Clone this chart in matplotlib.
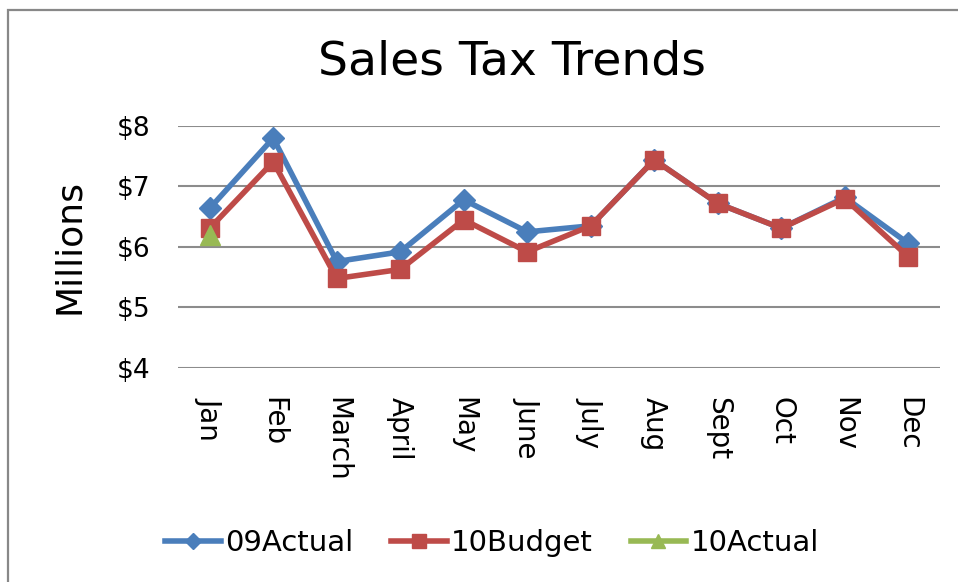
import matplotlib
matplotlib.use("Agg")
import matplotlib.pyplot as plt
from matplotlib.patches import Rectangle

months = ["Jan", "Feb", "March", "April", "May", "June",
          "July", "Aug", "Sept", "Oct", "Nov", "Dec"]
actual_09 = [6.64, 7.80, 5.76, 5.92, 6.78, 6.25, 6.35, 7.44, 6.72, 6.31, 6.82, 6.06]
budget_10 = [6.31, 7.41, 5.48, 5.63, 6.45, 5.92, 6.35, 7.44, 6.72, 6.31, 6.80, 5.84]
actual_10 = [6.20]
y_ticks = [4, 5, 6, 7, 8]
y_labels = ["$4", "$5", "$6", "$7", "$8"]

BLUE = "#4a7ebb"
RED = "#be4b48"
GREEN = "#98b954"

W, H = 958, 582
plt.rcParams["font.family"] = "DejaVu Sans"
fig = plt.figure(figsize=(W / 100, H / 100), dpi=100)

# chart-area border (only top/left visible in the crop)
fig.add_artist(Rectangle((8 / W, -0.1), 1.2, 1 - 10 / H + 0.1,
                         transform=fig.transFigure, fill=False,
                         edgecolor="#888888", linewidth=1.6))

ax = fig.add_axes([178 / W, 1 - 368 / H, (940 - 178) / W, (368 - 126) / H])
x = list(range(len(months)))

ax.plot(x, actual_09, color=BLUE, linewidth=4, marker="D", markersize=11,
        label="09Actual", zorder=3)
ax.plot(x, budget_10, color=RED, linewidth=4, marker="s", markersize=13,
        label="10Budget", zorder=4)
ax.plot(x[:len(actual_10)], actual_10, color=GREEN, linewidth=4, marker="^",
        markersize=14, label="10Actual", zorder=5)

ax.set_xlim(-0.5, len(months) - 0.5)
ax.set_ylim(4, 8)
ax.set_yticks(y_ticks)
ax.set_yticklabels(y_labels, fontsize=19)
ax.set_xticks(x)
ax.set_xticklabels(months, rotation=-90, fontsize=20, va="top", ha="center")
ax.tick_params(axis="both", length=0)
ax.tick_params(axis="y", pad=20)
ax.tick_params(axis="x", pad=21)
ax.grid(axis="y", color="#8c8c8c", linewidth=1.5)
ax.set_axisbelow(True)
for s in ax.spines.values():
    s.set_visible(False)

ax.set_ylabel("Millions", fontsize=26, labelpad=22)
fig.text(512 / W, 1 - 62 / H, "Sales Tax Trends", fontsize=34,
         ha="center", va="center")

fig.legend(loc="center", bbox_to_anchor=(492 / W, 1 - 543 / H), ncol=3,
           frameon=False, fontsize=21, handlelength=1.9, handletextpad=0.15,
           columnspacing=1.3, markerscale=0.75)

fig.savefig("out.png", dpi=100)
